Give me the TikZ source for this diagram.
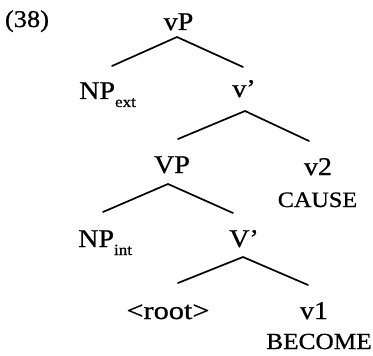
\documentclass[tikz,border=0pt]{standalone}
\usepackage{fontspec}
\setmainfont{Liberation Serif}[FakeStretch=1.1, FakeBold=0.8]
\begin{document}
\begin{tikzpicture}[x=1pt,y=-1pt,
  lbl/.style={inner sep=0pt, anchor=base, font=\fontsize{25.5}{25.5}\selectfont},
  sc/.style={inner sep=0pt, anchor=base, font=\fontsize{22}{22}\selectfont},
  br/.style={line width=1.7pt, line cap=round}]
\useasboundingbox (0,0) rectangle (373,356);
\node[lbl, font=\fontsize{24}{24}\selectfont] (ex) at (27,27) {(38)};
\node[lbl] (vP) at (178.5,30) {vP};
\node[lbl, anchor=base west] (NPext) at (79,99) {NP\raisebox{-8pt}{\fontsize{15.5}{15.5}\selectfont ext}};
\node[lbl] (vbar) at (244,97) {v’};
\node[lbl] (VP) at (172,173) {VP};
\node[lbl] (v2) at (318,175) {v2};
\node[sc] (cause) at (317.5,207) {CAUSE};
\node[lbl, anchor=base west] (NPint) at (78,247) {NP\raisebox{-8pt}{\fontsize{15.5}{15.5}\selectfont int}};
\node[lbl] (Vbar) at (244,247) {V’};
\node[lbl] (root) at (168,319) {\scalebox{1.08}[1]{<root>}};
\node[lbl] (v1) at (314,319) {v1};
\node[sc, font=\fontsize{23}{23}\selectfont] (become) at (319,349) {BECOME};
\coordinate (vP-b) at (177,37);
\coordinate (NPext-t) at (112,66);
\coordinate (vbar-t) at (243,67);
\coordinate (vbar-b) at (245,111);
\coordinate (VP-t) at (178,139);
\coordinate (v2-t) at (309,141);
\coordinate (VP-b) at (168,184);
\coordinate (NPint-t) at (103,212);
\coordinate (Vbar-t) at (233,213);
\coordinate (Vbar-b) at (243,257);
\coordinate (root-t) at (178,283);
\coordinate (v1-t) at (308,285);
\draw[br] (NPext-t) -- (vP-b) -- (vbar-t);
\draw[br] (VP-t) -- (vbar-b) -- (v2-t);
\draw[br] (NPint-t) -- (VP-b) -- (Vbar-t);
\draw[br] (root-t) -- (Vbar-b) -- (v1-t);
\end{tikzpicture}
\end{document}
